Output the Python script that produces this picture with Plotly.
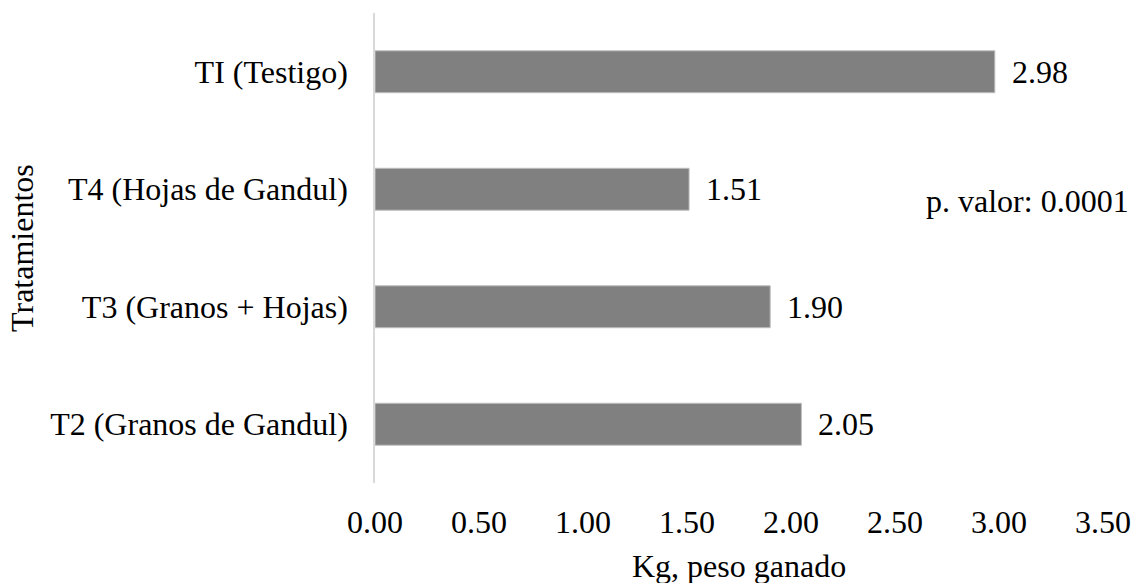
import plotly.graph_objects as go

categories = ["TI (Testigo)", "T4 (Hojas de Gandul)", "T3 (Granos + Hojas)", "T2 (Granos de Gandul)"]
values = [2.98, 1.51, 1.90, 2.05]
value_labels = ["2.98", "1.51", "1.90", "2.05"]
x_ticks = [0, 0.5, 1.0, 1.5, 2.0, 2.5, 3.0, 3.5]
x_title = "Kg, peso ganado"
y_title = "Tratamientos"
p_text = "p. valor: 0.0001"

FONT = "Liberation Serif, Times New Roman, serif"
FS = 32

fig = go.Figure()
fig.add_trace(go.Bar(
    x=values, y=categories, orientation="h",
    marker=dict(color="#808080", line=dict(color="#bfbfbf", width=1)),
    hoverinfo="skip",
))

annotations = []
for v, lab, c in zip(values, value_labels, categories):
    annotations.append(dict(x=v, y=c, xref="x", yref="y", text=lab, showarrow=False,
                            xanchor="left", yanchor="middle", xshift=15,
                            font=dict(family=FONT, size=FS, color="black")))
annotations.append(dict(x=1.039, y=0.60, xref="paper", yref="paper", text=p_text,
                        showarrow=False, xanchor="right", yanchor="middle",
                        font=dict(family=FONT, size=FS, color="black")))
annotations.append(dict(x=0.5, y=-0.1766, xref="paper", yref="paper", text=x_title,
                        showarrow=False, xanchor="center", yanchor="middle",
                        font=dict(family=FONT, size=FS, color="black")))
annotations.append(dict(x=-0.485, y=0.5, xref="paper", yref="paper", text=y_title,
                        showarrow=False, xanchor="center", yanchor="middle", textangle=-90,
                        font=dict(family=FONT, size=FS, color="black")))

fig.update_layout(
    width=1134, height=583,
    margin=dict(l=374.5, r=30.5, t=13, b=100, pad=0, autoexpand=False),
    paper_bgcolor="white", plot_bgcolor="white",
    font=dict(family=FONT, size=FS, color="black"),
    bargap=0.643,
    showlegend=False,
    annotations=annotations,
    xaxis=dict(range=[0, 3.5], tickvals=x_ticks, tickformat=".2f", showgrid=False,
               zeroline=False, showline=False, ticks="", ticklabelstandoff=17,
               automargin=False,
               tickfont=dict(family=FONT, size=FS, color="black"), fixedrange=True),
    yaxis=dict(autorange="reversed", showgrid=False, zeroline=False, showline=True,
               linecolor="#d9d9d9", linewidth=1.5, ticks="", ticklabelstandoff=19,
               automargin=False,
               tickfont=dict(family=FONT, size=FS, color="black"), fixedrange=True),
)

fig.write_html("out.html", config={"displayModeBar": False},
               post_script="document.body.style.margin='0';document.body.style.overflow='hidden';")
